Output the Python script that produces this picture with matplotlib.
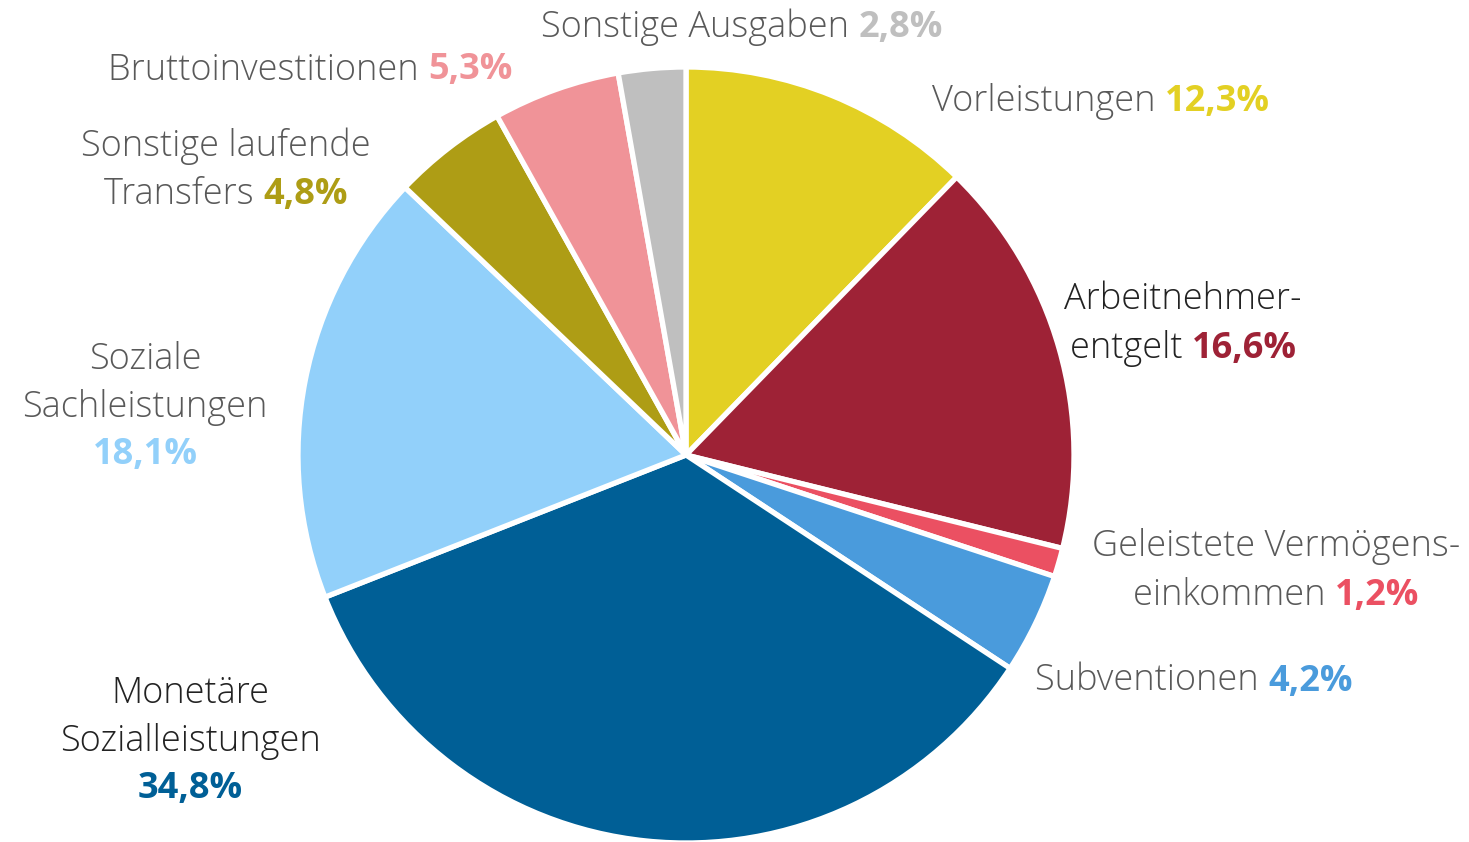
import matplotlib
matplotlib.use("Agg")
import matplotlib.pyplot as plt
from matplotlib.offsetbox import TextArea, HPacker, VPacker, AnnotationBbox

# slices, clockwise from 12 o'clock
labels = ["Vorleistungen", "Arbeitnehmer-\nentgelt", "Geleistete Vermögens-\neinkommen",
          "Subventionen", "Monetäre\nSozialleistungen", "Soziale\nSachleistungen",
          "Sonstige laufende\nTransfers", "Bruttoinvestitionen", "Sonstige Ausgaben"]
shares = [12.3, 16.6, 1.2, 4.2, 34.8, 18.1, 4.8, 5.3, 2.8]
colors = ["#E3D023", "#9E2236", "#EB5062", "#4A9BDC", "#005F96",
          "#92D0FA", "#AE9D15", "#F09398", "#BFBFBF"]
# percent on its own line?
pct_newline = [False, False, False, False, True, True, False, False, False]
label_dark = [False, True, False, False, True, False, False, False, False]

# label anchors in pixels (x, y from top) and alignment
label_pos = [(932, 102, "left"), (1183, 324, "center"), (1276, 571, "center"),
             (1035, 681, "left"), (190, 741, "center"), (145, 407, "center"),
             (226, 170, "center"), (310, 70, "center"), (742, 27, "center")]

W, H = 1469, 842
FAMILY = ["Open Sans", "DejaVu Sans"]
FS = 26

fig = plt.figure(figsize=(W / 100, H / 100), dpi=100)
ax = fig.add_axes([0, 0, 1, 1])

ax.pie(shares, colors=colors, startangle=90, counterclock=False,
       center=(686, H - 455), radius=388,
       wedgeprops=dict(edgecolor="white", linewidth=3.8))
ax.set_aspect("auto")
ax.set_xlim(0, W)
ax.set_ylim(0, H)
ax.axis("off")


def txt(s, color, weight):
    return TextArea(s, textprops=dict(color=color, fontsize=FS, fontweight=weight,
                                      family=FAMILY))


for lab, val, col, nl, dark, (x, y, ha) in zip(labels, shares, colors, pct_newline,
                                                label_dark, label_pos):
    tcol = "#222222" if dark else "#595959"
    pct = f"{val:.1f}".replace(".", ",") + "%"
    lines = lab.split("\n")
    rows = [txt(l, tcol, "light") for l in lines[:-1]]
    if nl:
        rows.append(txt(lines[-1], tcol, "light"))
        rows.append(txt(pct, col, "bold"))
    else:
        rows.append(HPacker(children=[txt(lines[-1] + " ", tcol, "light"),
                                      txt(pct, col, "bold")], pad=0, sep=0, align="baseline"))
    box = VPacker(children=rows, pad=0, sep=8, align=ha)
    bx = {"left": 0.0, "center": 0.5, "right": 1.0}[ha]
    ab = AnnotationBbox(box, (x, H - y), xycoords="data", frameon=False,
                        box_alignment=(bx, 0.5), pad=0)
    ax.add_artist(ab)

fig.savefig("out.png", dpi=100)
